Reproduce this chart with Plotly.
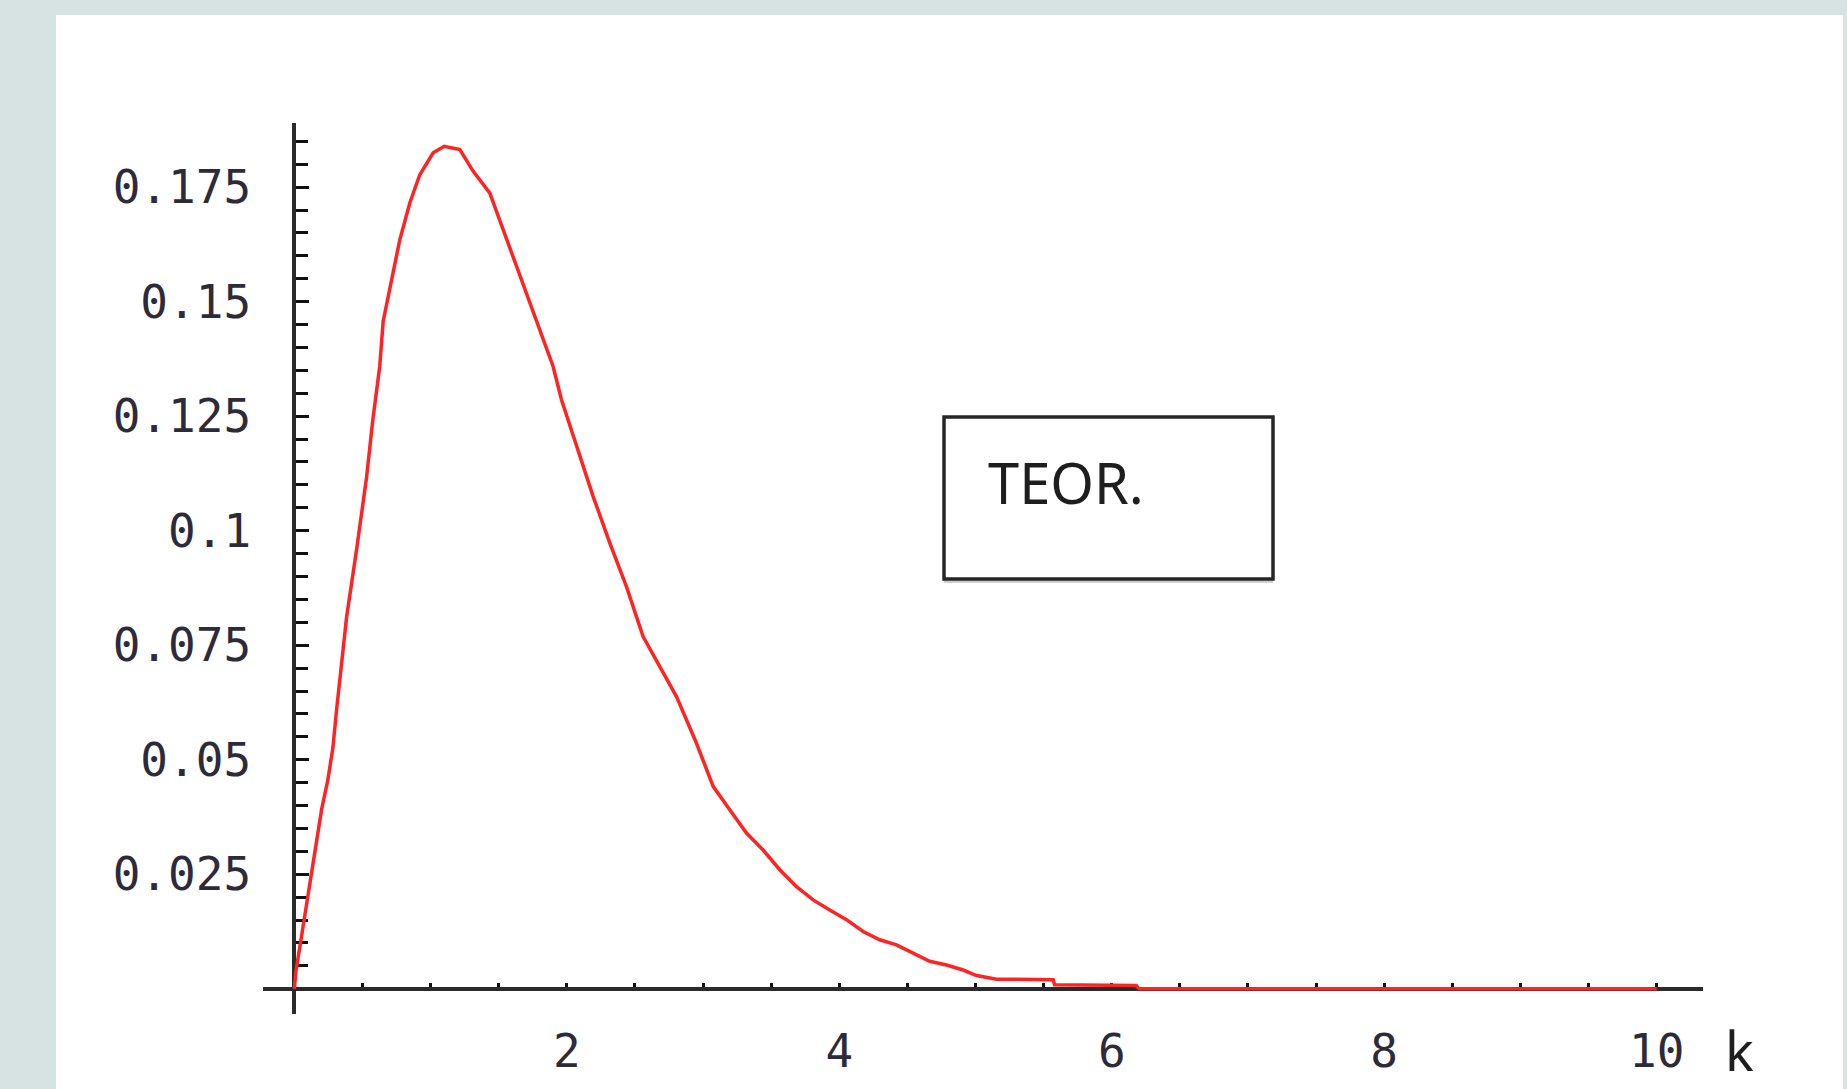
import plotly.graph_objects as go

# ---- data ----
k_values = [0.0, 0.01, 0.045, 0.084, 0.121, 0.163, 0.20, 0.246, 0.283, 0.31, 0.383, 0.457,
            0.53, 0.576, 0.627, 0.652, 0.725, 0.774, 0.848, 0.921, 1.019, 1.10, 1.215,
            1.312, 1.435, 1.532, 1.631, 1.753, 1.899, 1.961, 2.071, 2.193, 2.316, 2.438,
            2.56, 2.683, 2.805, 2.952, 3.074, 3.196, 3.319, 3.441, 3.563, 3.686, 3.808,
            3.93, 4.053, 4.175, 4.297, 4.42, 4.542, 4.664, 4.787, 4.909, 5.007, 5.155,
            5.57, 5.58, 6.18, 6.2, 10.0]
p_values = [0.0, 0.0035, 0.010, 0.0172, 0.0249, 0.0319, 0.0391, 0.0456, 0.0526, 0.0609,
            0.081, 0.0959, 0.1116, 0.1242, 0.1359, 0.1457, 0.1559, 0.1635, 0.1716, 0.1777,
            0.1825, 0.1839, 0.1832, 0.1785, 0.1737, 0.1657, 0.1577, 0.1475, 0.1359, 0.1286,
            0.1184, 0.1075, 0.0973, 0.0878, 0.0769, 0.0704, 0.0638, 0.0536, 0.0442, 0.0391,
            0.034, 0.0303, 0.026, 0.0223, 0.0194, 0.0172, 0.0151, 0.0125, 0.0107, 0.0096,
            0.0078, 0.006, 0.0052, 0.0041, 0.0029, 0.0021, 0.002, 0.0009, 0.0007, 0.0, 0.0]

x_tickvals = [2, 4, 6, 8, 10]
x_ticktext = ["2", "4", "6", "8", "10"]
x_minor_tickvals = [0.5, 1, 1.5, 2.5, 3, 3.5, 4.5, 5, 5.5, 6.5, 7, 7.5, 8.5, 9, 9.5]
y_tickvals = [0.025, 0.05, 0.075, 0.1, 0.125, 0.15, 0.175]
y_ticktext = ["0.025", "0.05", "0.075", "0.1", "0.125", "0.15", "0.175"]
y_minor_tickvals = [0.005, 0.01, 0.015, 0.02, 0.03, 0.035, 0.04, 0.045, 0.055, 0.06,
                    0.065, 0.07, 0.08, 0.085, 0.09, 0.095, 0.105, 0.11, 0.115, 0.12,
                    0.13, 0.135, 0.14, 0.145, 0.155, 0.16, 0.165, 0.17, 0.18, 0.185]

x_range = [-0.23, 10.34]
y_range = [-0.0055, 0.189]

label_box_text = "TEOR."
x_label = "k"

# ---- layout geometry (pixels) ----
W, H = 1847, 1089
ml, mr, mt, mb = 263, 144, 123, 75
pw, ph = W - ml - mr, H - mt - mb


def px_x(X):
    return (X - ml) / pw


def px_y(Y):
    return (H - mb - Y) / ph


tick_font = dict(family="DejaVu Sans Mono", size=46, color="#2d2b3a")
axis_col = "#2a2a2a"

fig = go.Figure()
fig.add_trace(go.Scatter(x=k_values, y=p_values, mode="lines",
                         line=dict(color="#ff2424", width=3.5),
                         hoverinfo="skip", showlegend=False))

x_pos = (0 - y_range[0]) / (y_range[1] - y_range[0])
y_pos = (0 - x_range[0]) / (x_range[1] - x_range[0])

fig.update_layout(
    width=W, height=H,
    margin=dict(l=ml, r=mr, t=mt, b=mb, pad=0),
    paper_bgcolor="#d7e3e3",
    plot_bgcolor="rgba(0,0,0,0)",
    showlegend=False,
    xaxis=dict(range=x_range, domain=[0, 1], anchor="free", position=x_pos,
               showline=True, linecolor=axis_col, linewidth=4,
               showgrid=False, zeroline=False,
               tickmode="array", tickvals=x_tickvals, ticktext=x_ticktext,
               ticks="inside", ticklen=4, tickwidth=3, tickcolor="#111",
               minor=dict(tickmode="array", tickvals=x_minor_tickvals,
                          ticks="inside", ticklen=4, tickwidth=3,
                          tickcolor="#111", showgrid=False),
               tickfont=tick_font, ticklabelstandoff=21,
               layer="below traces", fixedrange=True),
    yaxis=dict(range=y_range, domain=[0, 1], anchor="free", position=y_pos,
               showline=True, linecolor=axis_col, linewidth=4,
               showgrid=False, zeroline=False,
               tickmode="array", tickvals=y_tickvals, ticktext=y_ticktext,
               ticks="inside", ticklen=13, tickwidth=3, tickcolor="#111",
               minor=dict(tickmode="array", tickvals=y_minor_tickvals,
                          ticks="inside", ticklen=12, tickwidth=3,
                          tickcolor="#111", showgrid=False),
               tickfont=tick_font, ticklabelstandoff=32,
               layer="below traces", fixedrange=True),
    shapes=[
        # white panel
        dict(type="rect", xref="paper", yref="paper", layer="below",
             x0=px_x(56), x1=px_x(1843), y0=px_y(H + 5), y1=px_y(15),
             fillcolor="white", line=dict(width=0)),
        # text box shadow
        dict(type="line", xref="paper", yref="paper", layer="above",
             x0=px_x(944), x1=px_x(1273), y0=px_y(581.5), y1=px_y(581.5),
             line=dict(color="#cfcfcf", width=3)),
        # text box
        dict(type="rect", xref="paper", yref="paper", layer="above",
             x0=px_x(944), x1=px_x(1273), y0=px_y(579), y1=px_y(417),
             fillcolor="rgba(0,0,0,0)", line=dict(color="#262626", width=3.5)),
    ],
    annotations=[
        dict(text=label_box_text, xref="paper", yref="paper",
             x=px_x(986), y=px_y(482), xanchor="left", yanchor="middle",
             showarrow=False,
             font=dict(family="Noto Sans", size=56, color="#1e1e1e")),
        dict(text=x_label, xref="paper", yref="paper",
             x=px_x(1723), y=px_y(1050), xanchor="left", yanchor="middle",
             showarrow=False,
             font=dict(family="Noto Sans", size=54, color="#1e1e1e")),
    ],
)

fig.write_html("out.html", config=dict(displayModeBar=False))
